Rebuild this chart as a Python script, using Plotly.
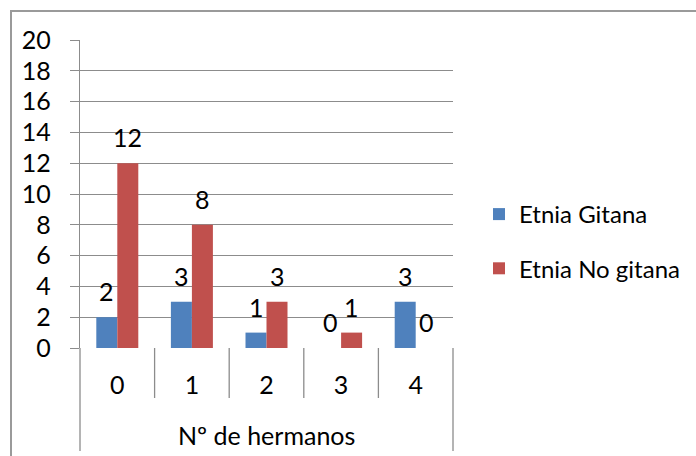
import plotly.graph_objects as go

# Number of siblings (categories) and counts per ethnic group
categories = ["0", "1", "2", "3", "4"]
gitana = [2, 3, 1, 0, 3]
no_gitana = [12, 8, 3, 1, 0]
series_names = ["Etnia Gitana", "Etnia No gitana"]
axis_group_label = "Nº de hermanos"
y_ticks = [0, 2, 4, 6, 8, 10, 12, 14, 16, 18, 20]

BLUE = "#4f81bd"
RED = "#c0504d"
GRID = "#8c8c8c"
FONT = "Lato"

x_pos = list(range(len(categories)))
bar_w = 0.2815
offset = bar_w / 2

fig = go.Figure()
fig.add_trace(go.Bar(x=x_pos, y=gitana, name=series_names[0], marker_color=BLUE,
                     marker_line_width=0, legendgroup="a"))
fig.add_trace(go.Bar(x=x_pos, y=no_gitana, name=series_names[1], marker_color=RED,
                     marker_line_width=0, legendgroup="b"))

# value labels above each bar
annotations = []
for vals, sign in ((gitana, -1), (no_gitana, 1)):
    for i, v in enumerate(vals):
        annotations.append(dict(x=i + sign * offset, y=v, xref="x", yref="y",
                                text=str(v), showarrow=False, yanchor="middle",
                                yshift=26, font=dict(family=FONT, size=25, color="black")))

# group label of the two-level category axis
annotations.append(dict(x=0.5, y=-0.282, xref="paper", yref="paper", text=axis_group_label,
                        showarrow=False, yanchor="middle", xanchor="center",
                        font=dict(family=FONT, size=25, color="black")))

L, R, T, B = 80, 243, 40, 108
W, H = 696, 456
pw, ph = W - L - R, H - T - B

def px_x(p):
    return (p - L) / pw

def px_y(p):
    return (H - B - p) / ph

shapes = []
# category separators below the axis
n = len(categories)
for k in range(n + 1):
    bottom = 451 if k in (0, n) else 398
    shapes.append(dict(type="line", xref="paper", yref="paper", x0=k / n, x1=k / n,
                       y0=0, y1=px_y(bottom), line=dict(color=GRID, width=1.3)))
# chart outer border
shapes.append(dict(type="rect", xref="paper", yref="paper", x0=px_x(11), x1=px_x(720),
                   y0=px_y(480), y1=px_y(11), line=dict(color="#9a9a9a", width=2),
                   fillcolor="rgba(0,0,0,0)"))

fig.update_layout(
    width=W, height=H,
    margin=dict(l=L, r=R, t=T, b=B, autoexpand=False),
    paper_bgcolor="white", plot_bgcolor="white",
    barmode="group", bargap=1 - 2 * bar_w, bargroupgap=0,
    font=dict(family=FONT, color="black"),
    xaxis=dict(range=[-0.5, n - 0.5], tickvals=x_pos, ticktext=categories,
               showgrid=False, zeroline=False, showline=False, ticks="",
               ticklabelstandoff=20, tickfont=dict(family=FONT, size=25, color="black")),
    yaxis=dict(range=[0, 20], tickvals=y_ticks, showgrid=True, gridcolor=GRID, gridwidth=1.3,
               zeroline=False, showline=True, linecolor=GRID, linewidth=1.3,
               ticks="outside", ticklen=9, tickcolor=GRID, tickwidth=1.3,
               ticklabelstandoff=14, tickfont=dict(family=FONT, size=25, color="black")),
    legend=dict(x=px_x(479), y=px_y(192), xanchor="left", yanchor="top",
                font=dict(family=FONT, size=24, color="black"),
                tracegroupgap=20, bgcolor="rgba(0,0,0,0)"),
    annotations=annotations,
    shapes=shapes,
    showlegend=True,
)

fig.write_html("out.html")
